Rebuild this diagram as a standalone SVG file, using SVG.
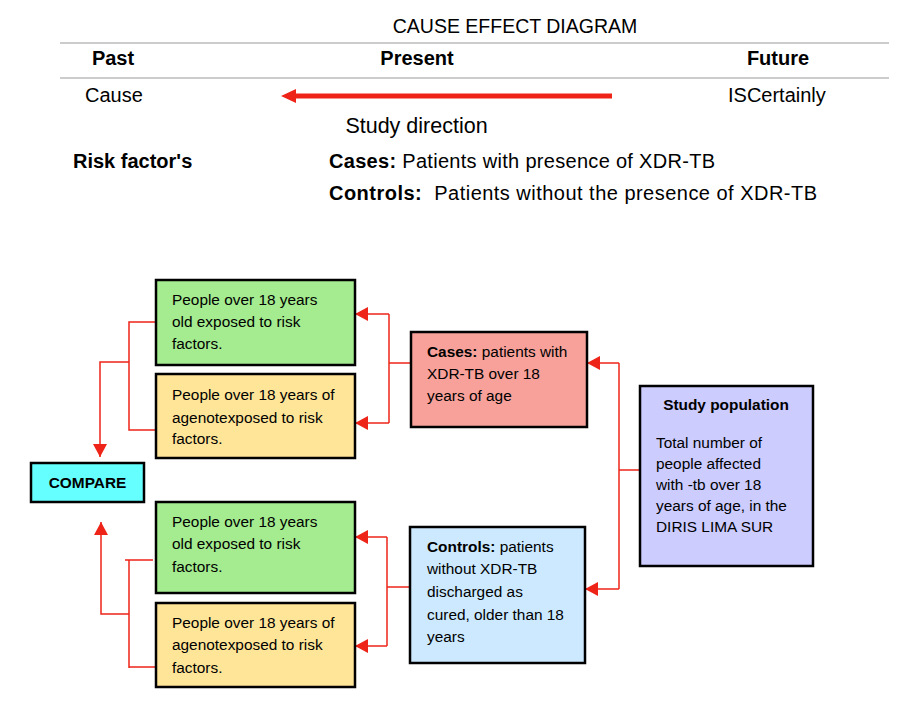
<svg xmlns="http://www.w3.org/2000/svg" width="919" height="708" viewBox="0 0 919 708">
<defs>
<style>
.t{font-family:"Liberation Sans",Arial,sans-serif;fill:#000}
.h{font-size:20px}
.b{font-weight:bold}
.bx{stroke:#000;stroke-width:2.5}
.bt{font-family:"Liberation Sans",Arial,sans-serif;font-size:15.4px;fill:#000}
.c{fill:none;stroke:#EE2418;stroke-width:1.5}
.rule{stroke:#999;stroke-width:1.2}
</style>
<marker id="ah" markerUnits="userSpaceOnUse" markerWidth="13" markerHeight="14" refX="13" refY="7" orient="auto">
<path d="M0,0 L13,7 L0,14 z" fill="#EE2418"/>
</marker>
</defs>
<rect width="919" height="708" fill="#fff"/>

<g id="header">
<text class="t" x="515" y="33" font-size="19.5" text-anchor="middle">CAUSE EFFECT DIAGRAM</text>
<line class="rule" x1="60" y1="43" x2="889" y2="43"/>
<line class="rule" x1="60" y1="78" x2="889" y2="78"/>
<text class="t h b" x="113" y="65" text-anchor="middle">Past</text>
<text class="t h b" x="417" y="65" text-anchor="middle">Present</text>
<text class="t h b" x="778" y="65" text-anchor="middle">Future</text>
<text class="t h" x="85" y="102">Cause</text>
<text class="t h" x="728" y="102">ISCertainly</text>
<line x1="612" y1="96" x2="294" y2="96" stroke="#EE2418" stroke-width="5"/>
<path d="M281,96 L296,89 L296,103 z" fill="#EE2418"/>
<text class="t" x="416.5" y="133" font-size="21.5" text-anchor="middle">Study direction</text>
<text class="t h b" x="73" y="168">Risk factor's</text>
<text class="t h" x="329" y="168" textLength="386" lengthAdjust="spacing"><tspan class="b">Cases:</tspan> Patients with presence of XDR-TB</text>
<text class="t h" x="329" y="200" textLength="488" lengthAdjust="spacing" xml:space="preserve"><tspan class="b">Controls:</tspan>  Patients without the presence of XDR-TB</text>
</g>

<g id="connectors">
<path class="c" d="M411,363 H389"/>
<path class="c" d="M389,314 V423"/>
<path class="c" d="M389,314 H355" marker-end="url(#ah)"/>
<path class="c" d="M389,423 H355" marker-end="url(#ah)"/>
<path class="c" d="M640,470 H619"/>
<path class="c" d="M619,363 V589"/>
<path class="c" d="M619,363 H587" marker-end="url(#ah)"/>
<path class="c" d="M619,589 H585" marker-end="url(#ah)"/>
<path class="c" d="M410,587 H387"/>
<path class="c" d="M387,537 V646"/>
<path class="c" d="M387,537 H355" marker-end="url(#ah)"/>
<path class="c" d="M387,646 H355" marker-end="url(#ah)"/>
<path class="c" d="M155,322 H129 V430 H155"/>
<path class="c" d="M129,362 H100 V457" marker-end="url(#ah)"/>
<path class="c" d="M153,560 H125 M129,560 V668 M129,667 H155"/>
<path class="c" d="M129,614 H101 V522" marker-end="url(#ah)"/>
</g>

<g id="green-top">
<rect class="bx" x="156" y="280" width="199" height="85" fill="#A4EC8F"/>
<text class="bt" x="172" y="305">People over 18 years</text>
<text class="bt" x="172" y="327">old exposed to risk</text>
<text class="bt" x="172" y="349">factors.</text>
</g>
<g id="yellow-top">
<rect class="bx" x="156" y="374" width="199" height="84" fill="#FFE598"/>
<text class="bt" x="172" y="400">People over 18 years of</text>
<text class="bt" x="172" y="423">agenotexposed to risk</text>
<text class="bt" x="172" y="444">factors.</text>
</g>
<g id="cases">
<rect class="bx" x="411" y="332" width="176" height="95" fill="#F8A19A"/>
<text class="bt" x="427" y="357"><tspan font-weight="bold">Cases:</tspan> patients with</text>
<text class="bt" x="427" y="379">XDR-TB over 18</text>
<text class="bt" x="427" y="401">years of age</text>
</g>
<g id="study-population">
<rect class="bx" x="640" y="386" width="173" height="180" fill="#CCCCFF"/>
<text class="bt" x="726" y="410" text-anchor="middle" font-weight="bold">Study population</text>
<text class="bt" x="656" y="448">Total number of</text>
<text class="bt" x="656" y="469">people affected</text>
<text class="bt" x="656" y="490">with -tb over 18</text>
<text class="bt" x="656" y="511">years of age, in the</text>
<text class="bt" x="656" y="532">DIRIS LIMA SUR</text>
</g>
<g id="compare">
<rect class="bx" x="31" y="463" width="113" height="39" fill="#66FFFF"/>
<text class="bt" x="87.5" y="488" text-anchor="middle" font-weight="bold" font-size="14.5">COMPARE</text>
</g>
<g id="green-bottom">
<rect class="bx" x="156" y="502" width="199" height="91" fill="#A4EC8F"/>
<text class="bt" x="172" y="527">People over 18 years</text>
<text class="bt" x="172" y="549">old exposed to risk</text>
<text class="bt" x="172" y="572">factors.</text>
</g>
<g id="yellow-bottom">
<rect class="bx" x="156" y="603" width="199" height="84" fill="#FFE598"/>
<text class="bt" x="172" y="628">People over 18 years of</text>
<text class="bt" x="172" y="650">agenotexposed to risk</text>
<text class="bt" x="172" y="673">factors.</text>
</g>
<g id="controls">
<rect class="bx" x="410" y="527" width="175" height="136" fill="#CCE9FF"/>
<text class="bt" x="427" y="552"><tspan font-weight="bold">Controls:</tspan> patients</text>
<text class="bt" x="427" y="574">without XDR-TB</text>
<text class="bt" x="427" y="597">discharged as</text>
<text class="bt" x="427" y="620">cured, older than 18</text>
<text class="bt" x="427" y="642">years</text>
</g>
</svg>
